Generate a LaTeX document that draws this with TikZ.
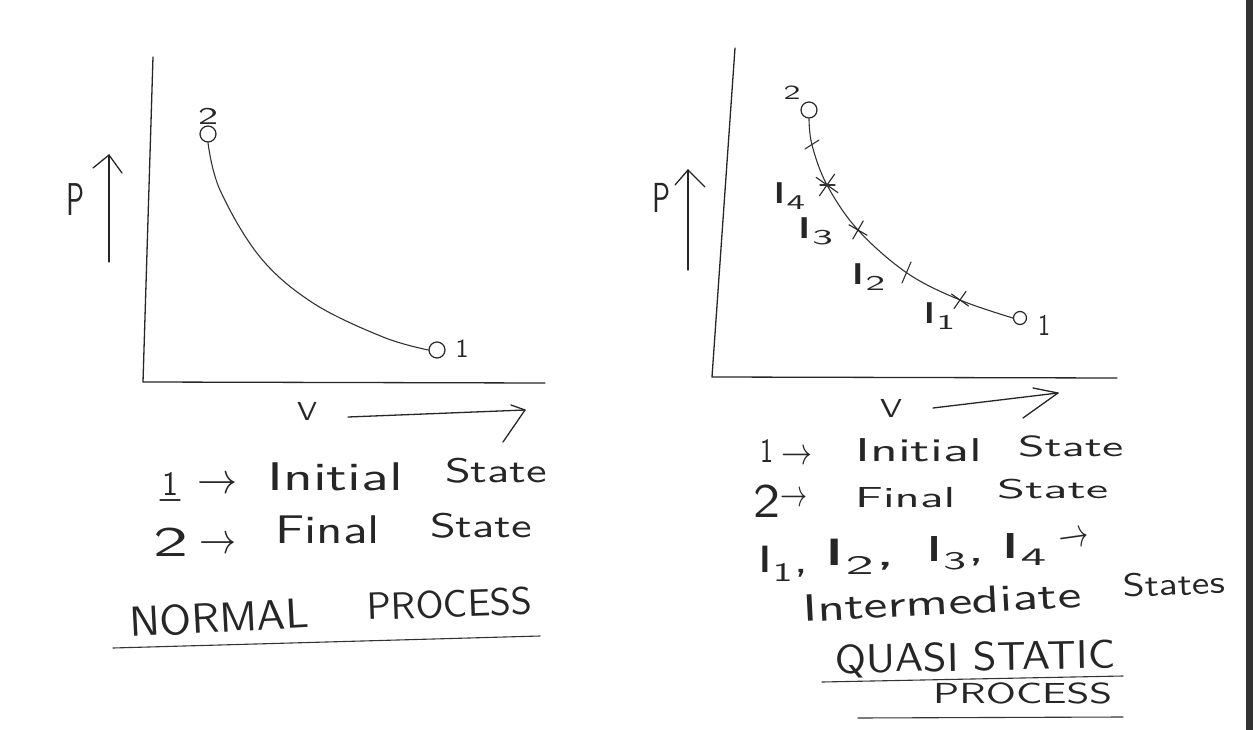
\documentclass[tikz,border=0pt]{standalone}
\usepackage{fontspec}
\usepackage{graphicx}
\usetikzlibrary{shapes.misc}
\newfontfamily\hand{lmsans10-regular.otf}
% width, font size, text: natural height, width stretched to fit
\newcommand{\hw}[3]{\resizebox{#1pt}{\height}{\hand\fontsize{#2}{#2}\selectfont #3}}
\newcommand{\harr}[2]{\resizebox{#1pt}{#2pt}{$\rightarrow$}}
\begin{document}
\begin{tikzpicture}[x=1pt,y=-1pt,
  ink/.style={draw=black!85, line width=1.3pt, line cap=round, line join=round},
  thin ink/.style={draw=black!80, line width=1.1pt, line cap=round, line join=round},
  word/.style={inner sep=0, anchor=base west, text=black!85},
  mid/.style={inner sep=0, anchor=center, text=black!85},
  statept/.style={circle, draw=black!85, line width=1.2pt, inner sep=0},
  xmark/.style={cross out, draw=black!85, line width=1.1pt, inner sep=0, minimum size=13pt},
  ilab/.style={inner sep=0, anchor=center, text=black!85}]
\useasboundingbox (0,0) rectangle (1253,730);
\fill[white] (0,0) rectangle (1253,730);
\fill[black!80] (1246,0) rectangle (1253,730);

% ---------------- left diagram: normal process ----------------
\coordinate (ltop) at (153,57);
\coordinate (lo) at (143,382);
\coordinate (lx) at (545,383);
\draw[ink] (ltop) -- (lo) -- (lx);

\node[statept, minimum size=16pt] (l2) at (208,134) {};
\node[mid] (l2lab) at (208,116) {\hw{20}{24}{2}};
\node[statept, minimum size=16pt] (l1) at (437,350) {};
\node[mid] (l1lab) at (462,349) {\hw{13}{26}{1}};
\draw[thin ink] plot[smooth, tension=0.6] coordinates {(l2.south) (220,190) (260,257) (313,303) (383,337) (l1.west)};

% P axis arrow
\node[word] (lP) at (66,215) {\hw{18}{46}{P}};
\coordinate (lpb) at (109,262);
\coordinate (lpt) at (109,155);
\draw[ink] (lpb) -- (lpt);
\draw[ink] (93,168) -- (lpt) -- (122,173);

% V axis arrow
\node[mid] (lV) at (307,411) {\hw{20}{26}{V}};
\coordinate (lva) at (348,417);
\coordinate (lvb) at (525,410);
\draw[ink] (lva) -- (lvb);
\draw[ink] (511,405) -- (lvb) -- (503,442);

% legend
\node[word] (ln1) at (162,495) {\hw{16}{34}{1}};
\draw[thin ink] (160,500) -- (180,500);
\node[mid] (la1) at (217,485) {\harr{40}{16}};
\node[word] (linit) at (267,490) {\hw{136}{40}{Initial}};
\node[word] (lst1) at (445,482) {\hw{102}{34}{State}};
\node[word] (ln2) at (153,556) {\hw{35}{42}{2}};
\node[mid] (la2) at (218,545) {\harr{37}{16}};
\node[word] (lfin) at (275,543) {\hw{105}{40}{Final}};
\node[word] (lst2) at (430,537) {\hw{102}{34}{State}};
\node[word, rotate=3] (lnorm) at (130,637) {\hw{180}{42}{NORMAL}};
\node[word, rotate=2] (lproc) at (367,620) {\hw{166}{38}{PROCESS}};
\coordinate (lu1) at (113,648);
\coordinate (lu2) at (540,636);
\draw[thin ink] (lu1) -- (lu2);

% ---------------- right diagram: quasi static process ----------------
\coordinate (rtop) at (735,48);
\coordinate (ro) at (712,377);
\coordinate (rx) at (1117,378);
\draw[ink] (rtop) -- (ro) -- (rx);

\node[statept, minimum size=16pt] (r2) at (809,110) {};
\node[mid] (r2lab) at (792,93) {\hw{17}{20}{2}};
\node[statept, minimum size=13pt] (r1) at (1020,318) {};
\node[mid] (r1lab) at (1044,325) {\hw{12}{30}{1}};

\coordinate (t0) at (812,145);
\coordinate (i4) at (827,185);
\coordinate (i3) at (858,230);
\coordinate (i2) at (907,273);
\coordinate (i1) at (960,300);
\draw[thin ink] plot[smooth, tension=0.6] coordinates {(r2.south) (t0) (i4) (i3) (i2) (i1) (r1.west)};

\draw[thin ink] (805,149) -- (819,140);
\draw[thin ink] (902,283) -- (911,262);
\node[xmark, minimum size=18pt, rotate=10] (x4) at (i4) {};
\draw[thin ink] (820,185) -- (835,185);
\node[xmark, minimum size=14pt, rotate=15] (x3) at (i3) {};
\node[xmark, minimum size=14pt, rotate=10] (x1) at (i1) {};

\node[ilab] (li4) at (789,196) {\hw{34}{30}{I\textsubscript{4}}};
\node[ilab] (li3) at (815,231) {\hw{38}{30}{I\textsubscript{3}}};
\node[ilab] (li2) at (868,277) {\hw{36}{30}{I\textsubscript{2}}};
\node[ilab] (li1) at (939,316) {\hw{34}{30}{I\textsubscript{1}}};

% P axis arrow
\node[word] (rP) at (652,213) {\hw{18}{42}{P}};
\coordinate (rpb) at (688,270);
\coordinate (rpt) at (688,170);
\draw[ink] (rpb) -- (rpt);
\draw[ink] (675,185) -- (rpt) -- (705,187);

% V axis arrow
\node[mid] (rV) at (891,408) {\hw{22}{26}{V}};
\coordinate (rva) at (933,408);
\coordinate (rvb) at (1058,393);
\draw[ink] (rva) -- (rvb);
\draw[ink] (1033,388) -- (rvb) -- (1023,418);

% legend
\node[word] (rn1) at (760,462) {\hw{13}{34}{1}};
\node[mid] (ra1) at (797,457) {\harr{31}{14}};
\node[word] (rinit) at (855,461) {\hw{127}{33}{Initial}};
\node[word] (rst1) at (1018,456) {\hw{105}{29}{State}};
\node[word] (rn2) at (753,517) {\hw{27}{48}{2}};
\node[mid] (ra2) at (794,499) {\harr{27}{14}};
\node[word] (rfin) at (855,507) {\hw{100}{29}{Final}};
\node[word] (rst2) at (997,498) {\hw{111}{27}{State}};
\node[word] (rI1) at (757,572) {\hw{52}{38}{I\textsubscript{1},}};
\node[word] (rI2) at (823,565) {\hw{74}{38}{I\textsubscript{2},}};
\node[word] (rI3) at (925,561) {\hw{60}{36}{I\textsubscript{3},}};
\node[word] (rI4) at (1000,558) {\hw{47}{36}{I\textsubscript{4}}};
\node[mid, rotate=8] (ra3) at (1074,540) {\harr{30}{15}};
\node[word, rotate=3] (rinter) at (803,622) {\hw{279}{38}{Intermediate}};
\node[word, rotate=2] (rstates) at (1123,597) {\hw{102}{32}{States}};
\node[word, rotate=1] (rquasi) at (835,673) {\hw{280}{40}{QUASI STATIC}};
\coordinate (ru1) at (822,682);
\coordinate (ru2) at (1123,676);
\draw[thin ink] (ru1) -- (ru2);
\node[word] (rproc) at (933,703) {\hw{179}{29}{PROCESS}};
\coordinate (ru3) at (858,718);
\coordinate (ru4) at (1123,717);
\draw[thin ink] (ru3) -- (ru4);
\end{tikzpicture}
\end{document}
